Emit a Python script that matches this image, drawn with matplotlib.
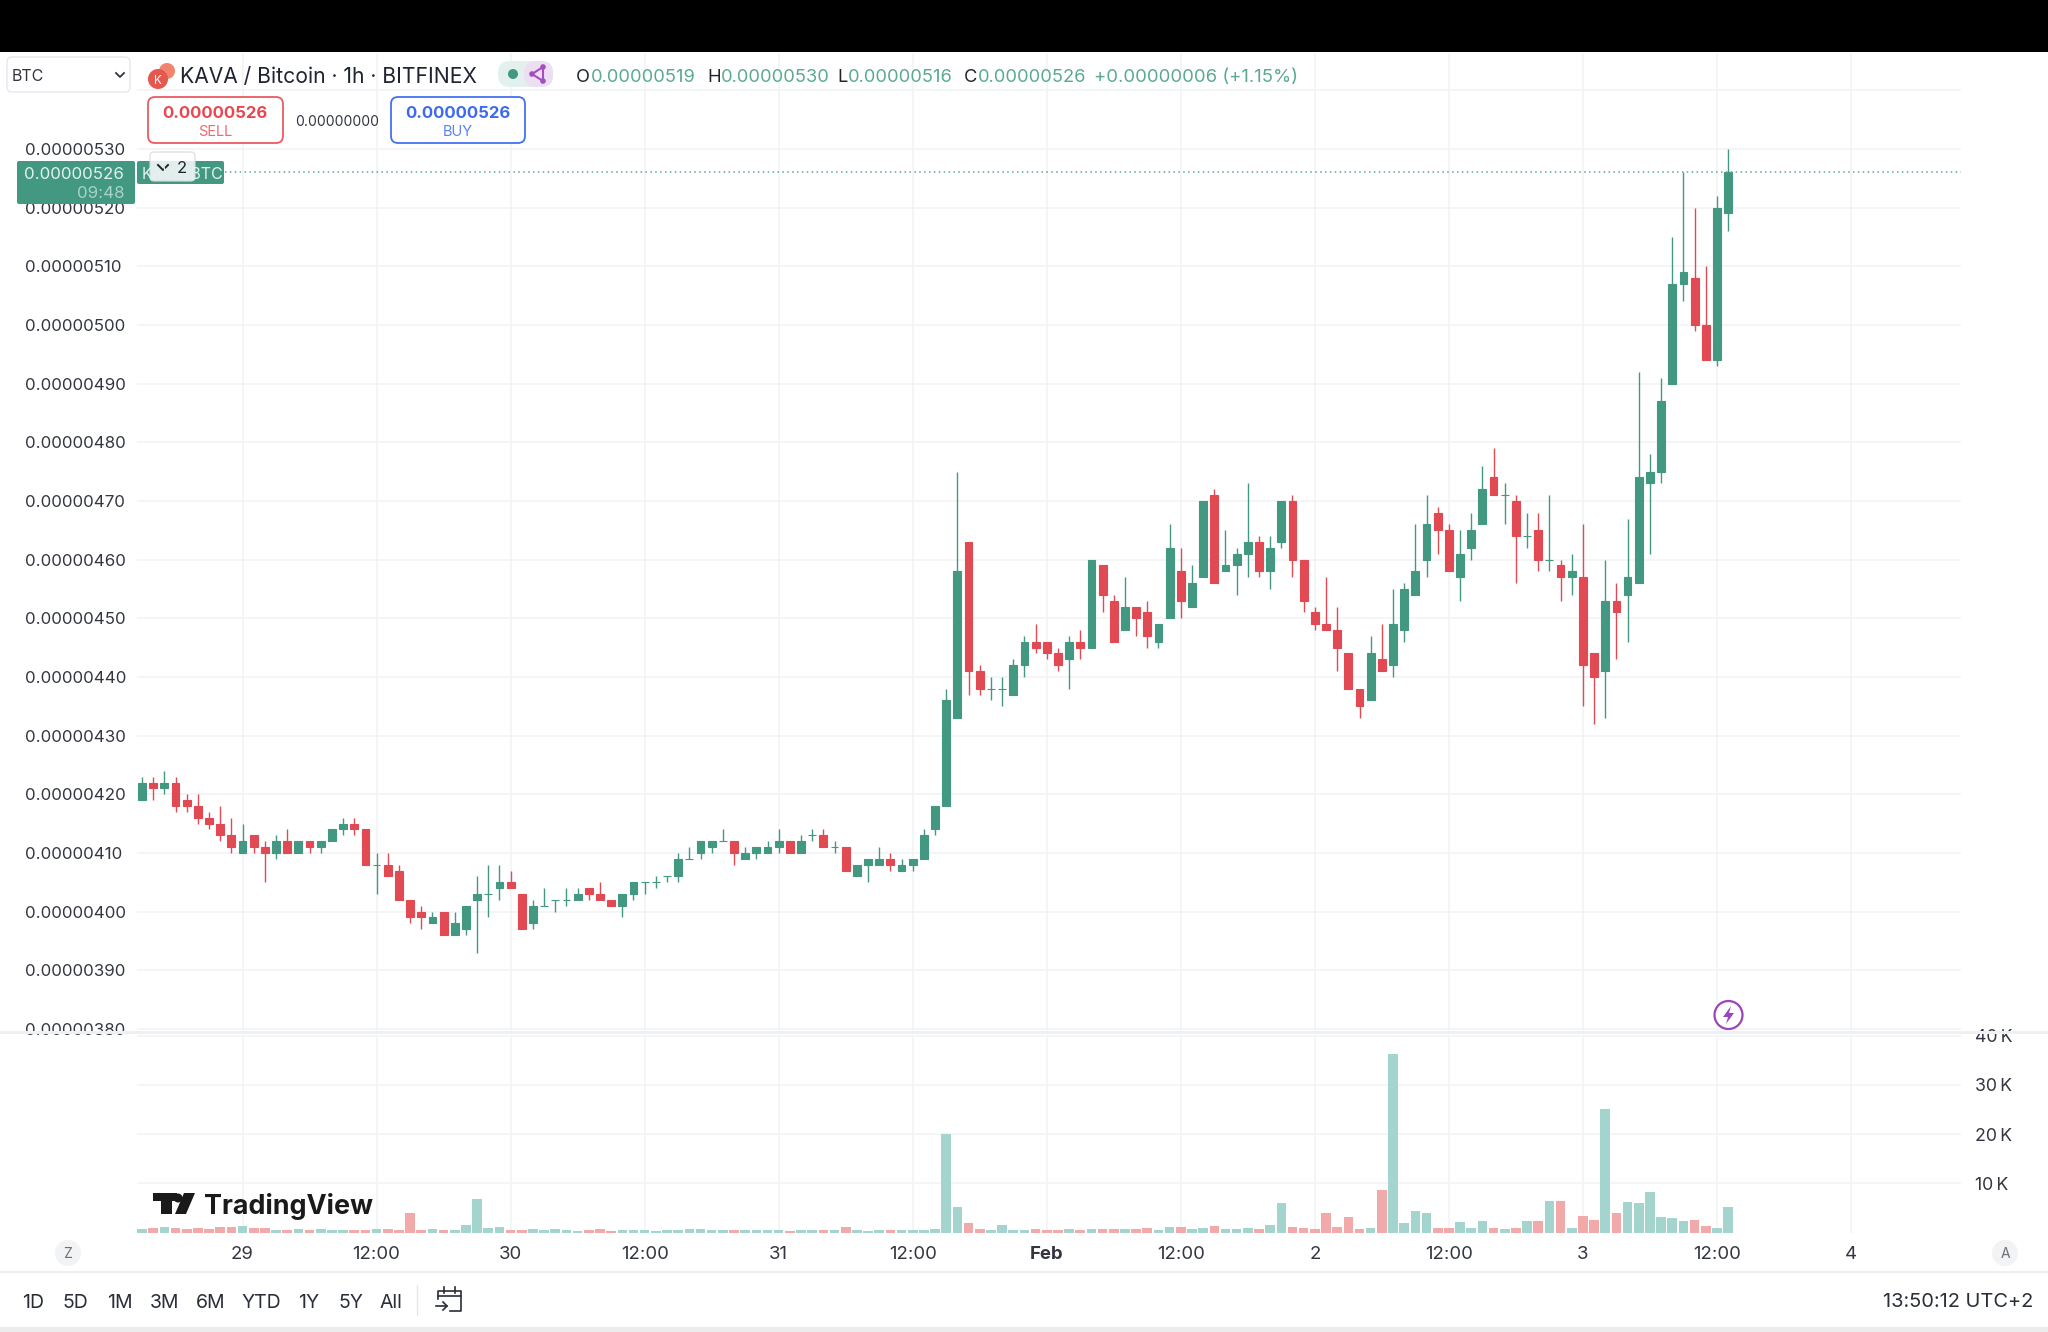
from matplotlib import pyplot as plt
from matplotlib.patches import Circle, FancyBboxPatch, Polygon, Rectangle

plt.rcParams['font.family'] = ['Inter', 'DejaVu Sans']

# prices are in units of 0.00000001 BTC, one candle per hour from 28 Jan 15:00
opens = [419, 422, 421, 422, 419, 418, 416, 415, 413, 410, 413, 411, 410, 412, 410, 412, 411, 412, 414, 415,
	414, 408, 408, 407, 402, 400, 398, 400, 396, 397, 402, 403, 404, 405, 403, 398, 401, 402, 402, 402,
	404, 403, 402, 401, 403, 405, 405, 406, 406, 409, 410, 411, 412, 412, 409, 410, 410, 411, 412, 410,
	413, 413, 411, 411, 406, 408, 408, 409, 407, 408, 409, 414, 418, 433, 463, 441, 438, 438, 437, 442,
	446, 446, 444, 443, 446, 445, 459, 453, 448, 452, 451, 446, 450, 458, 452, 457, 471, 458, 459, 461,
	463, 458, 463, 470, 460, 451, 449, 448, 444, 438, 436, 443, 442, 448, 454, 460, 468, 465, 457, 462,
	466, 474, 471, 470, 464, 465, 460, 459, 457, 457, 444, 441, 453, 454, 456, 473, 475, 490, 507, 508,
	500, 494, 519]
closes = [422, 421, 422, 418, 418, 416, 415, 413, 411, 412, 411, 410, 412, 410, 412, 411, 412, 414, 415, 414,
	408, 408, 406, 402, 399, 399, 399, 396, 398, 401, 403, 403, 405, 404, 397, 401, 401, 402, 402, 403,
	403, 402, 401, 403, 405, 405, 405, 406, 409, 409, 412, 412, 412, 410, 410, 411, 411, 412, 410, 412,
	413, 411, 411, 407, 408, 409, 409, 408, 408, 409, 413, 418, 436, 458, 441, 438, 438, 438, 442, 446,
	445, 444, 442, 446, 445, 460, 454, 446, 452, 450, 447, 449, 462, 453, 456, 470, 456, 459, 461, 463,
	458, 462, 470, 460, 453, 449, 448, 445, 438, 435, 444, 441, 449, 455, 458, 466, 465, 458, 461, 465,
	472, 471, 471, 464, 464, 460, 460, 457, 458, 442, 440, 453, 451, 457, 474, 475, 487, 507, 509, 500,
	494, 520, 526]
highs = [423, 423, 424, 423, 420, 420, 417, 418, 416, 415, 413, 412, 413, 414, 412, 412, 412, 414, 416, 416,
	414, 410, 410, 408, 402, 401, 400, 400, 400, 401, 406, 408, 408, 407, 403, 402, 404, 402, 404, 404,
	404, 405, 402, 403, 405, 405, 406, 406, 410, 411, 412, 412, 414, 412, 411, 411, 412, 414, 412, 413,
	414, 414, 412, 411, 408, 409, 411, 410, 409, 409, 414, 418, 438, 475, 463, 442, 440, 440, 443, 447,
	449, 446, 445, 447, 448, 460, 459, 454, 457, 452, 453, 449, 466, 462, 459, 470, 472, 465, 462, 473,
	464, 464, 470, 471, 460, 452, 457, 452, 444, 438, 447, 449, 455, 456, 466, 471, 469, 466, 465, 468,
	476, 479, 473, 471, 468, 468, 471, 460, 461, 466, 444, 460, 456, 467, 492, 478, 491, 515, 526, 520,
	510, 522, 530]
lows = [419, 419, 420, 417, 417, 415, 414, 412, 410, 410, 410, 405, 409, 410, 410, 410, 410, 412, 413, 413,
	408, 403, 406, 402, 398, 397, 398, 396, 396, 396, 393, 399, 402, 404, 397, 397, 401, 400, 401, 402,
	402, 402, 401, 399, 402, 403, 404, 405, 405, 409, 409, 410, 412, 408, 409, 409, 410, 410, 410, 410,
	412, 411, 410, 407, 406, 405, 408, 407, 407, 407, 409, 413, 418, 433, 437, 437, 436, 435, 437, 440,
	444, 443, 441, 438, 443, 445, 451, 446, 448, 447, 445, 445, 450, 450, 452, 457, 456, 458, 454, 457,
	457, 455, 462, 457, 451, 448, 448, 441, 438, 433, 436, 441, 440, 446, 454, 457, 461, 458, 453, 460,
	466, 471, 466, 456, 462, 458, 458, 453, 454, 435, 432, 433, 443, 446, 456, 461, 473, 490, 504, 499,
	494, 493, 516]
# volume in thousands
volumes = [0.75, 0.95, 1.1, 0.95, 0.75, 0.95, 0.75, 1.1, 1.1, 1.35, 0.95, 0.95, 0.6, 0.6, 0.75, 0.6, 0.65, 0.45, 0.45, 0.6,
	0.6, 0.75, 0.75, 0.6, 3.9, 0.6, 0.65, 0.45, 0.45, 1.5, 6.8, 0.95, 1.1, 0.6, 0.45, 0.75, 0.45, 0.65, 0.45, 0.3,
	0.45, 0.65, 0.3, 0.45, 0.45, 0.45, 0.3, 0.45, 0.45, 0.65, 0.65, 0.45, 0.45, 0.45, 0.45, 0.45, 0.45, 0.45, 0.3, 0.45,
	0.45, 0.45, 0.45, 1.2, 0.45, 0.3, 0.45, 0.45, 0.45, 0.45, 0.45, 0.75, 20.1, 5.1, 2.0, 0.75, 0.6, 1.5, 0.6, 0.6,
	0.65, 0.5, 0.5, 0.65, 0.5, 0.65, 0.65, 0.65, 0.65, 0.65, 0.95, 0.5, 1.1, 1.2, 0.65, 0.95, 1.35, 0.65, 0.65, 0.95,
	0.75, 1.5, 5.9, 1.1, 0.95, 0.75, 4.05, 1.1, 3.05, 0.75, 0.95, 8.6, 36.3, 2.0, 4.3, 4.0, 0.9, 1.0, 2.1, 1.0,
	2.4, 0.9, 0.75, 0.9, 2.4, 2.4, 6.4, 6.4, 0.9, 3.4, 2.6, 25.2, 3.9, 6.1, 6.0, 8.2, 3.1, 2.85, 2.4, 2.6,
	1.3, 1.0, 5.1]
price_ticks = [380, 390, 400, 410, 420, 430, 440, 450, 460, 470, 480, 490, 500, 510, 520, 530, 540]
volume_ticks = [10, 20, 30, 40]
time_ticks = [9, 21, 33, 45, 57, 69, 81, 93, 105, 117, 129, 141, 153]
time_labels = ['29', '12:00', '30', '12:00', '31', '12:00', 'Feb', '12:00', '2', '12:00', '3', '12:00', '4']
last_price = 526
ranges = ['1D', '5D', '1M', '3M', '6M', 'YTD', '1Y', '5Y', 'All']

GREEN = '#439882'
RED = '#e14a52'
LIGHT_GREEN = '#a3d4ce'
LIGHT_RED = '#f2a9a9'
TEXT = '#333640'
GRID = '#f3f4f6'
W, H = 2048, 1332


def pixel_axes(fig, left, top, right, bottom):
	return fig.add_axes([left / W, 1 - bottom / H, (right - left) / W, (bottom - top) / H])


def plain(ax):
	for s in ax.spines.values():
		s.set_visible(False)
	ax.set_axisbelow(True)
	ax.grid(True, color=GRID, lw=1.3)
	ax.tick_params(length=0, labelcolor=TEXT, labelsize=12.2)
	ax.set_xlim(-0.45, 162.85)
	ax.set_xticks(time_ticks)


def plot_candles(ax):
	x = list(range(len(opens)))
	colors = [GREEN if c >= o else RED for o, c in zip(opens, closes)]
	ax.vlines(x, lows, highs, color=colors, lw=1.0)
	ax.bar(x, [c - o for o, c in zip(opens, closes)], bottom=opens, width=0.7, color=colors, edgecolor=colors, lw=0.8)
	ax.axhline(last_price, color='#5aa893', lw=1.1, ls=(0, (1, 2.2)))
	ax.set_ylim(379.25, 546.3)
	ax.set_yticks(price_ticks)
	ax.set_yticklabels(['' if p == 540 else '%.8f' % (p * 1e-8) for p in price_ticks], ha='left')
	ax.tick_params(axis='y', pad=80.5)
	ax.tick_params(axis='x', labelbottom=False)


def plot_volume(ax):
	x = list(range(len(volumes)))
	colors = [LIGHT_GREEN if c >= o else LIGHT_RED for o, c in zip(opens, closes)]
	ax.bar(x, volumes, width=0.86, color=colors)
	ax.set_ylim(0, 40.25)
	ax.set_yticks(volume_ticks)
	ax.set_yticklabels(['%d\u2009K' % v for v in volume_ticks])
	ax.yaxis.tick_right()
	ax.tick_params(axis='y', pad=10, labelsize=12.8)
	ax.set_xticklabels(time_labels)
	ax.tick_params(axis='x', pad=9.5, labelsize=13.4)
	for lab in ax.get_xticklabels():
		if lab.get_text() == 'Feb':
			lab.set_fontweight('bold')


def box(ui, x0, y0, x1, y1, r=0, **kw):
	ui.add_patch(FancyBboxPatch((x0, y0), x1 - x0, y1 - y0, boxstyle='round,pad=0,rounding_size=%g' % r, **kw))


def label(ui, x, y, s, size=12.2, color=TEXT, ha='left', **kw):
	ui.text(x, y, s, fontsize=size, color=color, ha=ha, va='center_baseline', **kw)


def draw_header(ui):
	ui.add_patch(Rectangle((0, 0), W, 52, color='black', lw=0))
	box(ui, 7, 57, 130, 92, 5, fc='white', ec='#e6e8ee', lw=1)
	label(ui, 12, 75, 'BTC', 11.5)
	ui.plot([116, 120, 124], [73, 77, 73], color=TEXT, lw=1.3)

	ui.add_patch(Circle((167, 71), 8, color='#f0846c', lw=0))
	ui.add_patch(Circle((158, 79), 10, color='#e5574f', lw=0))
	label(ui, 158, 79.5, 'K', 8.5, 'white', 'center')
	label(ui, 180, 75, 'KAVA / Bitcoin · 1h · BITFINEX', 15.2, '#1f2430')

	box(ui, 498, 61, 553, 87, 12, fc='#e3f1ee', ec='none')
	box(ui, 524, 61, 553, 87, 12, fc='#ecdff3', ec='none')
	ui.add_patch(Circle((513, 74), 5, color=GREEN, lw=0))
	for a, b in [((532, 74), (543, 67)), ((532, 74), (543, 81)), ((543, 67), (543, 81))]:
		ui.plot([a[0], b[0]], [a[1], b[1]], color='#a64dc0', lw=1.5)
	for p in [(532, 74), (543, 67), (543, 81)]:
		ui.add_patch(Circle(p, 2.8, color='#a64dc0', lw=0))

	hl = '#59aa91'
	for x, s, in [(576, 'O'), (707, 'H'), (837, 'L'), (964, 'C')]:
		label(ui, x, 75, s, 13.2, '#20242c')
	for x, s in [(591, '0.00000519'), (721, '0.00000530'), (848, '0.00000516'), (978, '0.00000526')]:
		label(ui, x, 75, s, 13.2, hl)
	label(ui, 1094, 75, '+0.00000006 (+1.15%)', 13.3, hl)

	box(ui, 148, 97, 283, 143, 7, fc='white', ec='#ec5a60', lw=1.3)
	label(ui, 215, 112, '0.00000526', 12, '#e8474f', 'center', fontweight='bold')
	label(ui, 215, 131, 'SELL', 10.5, '#ee6a70', 'center')
	label(ui, 337, 120, '0.00000000', 10, TEXT, 'center')
	box(ui, 391, 97, 525, 143, 7, fc='white', ec='#4470f0', lw=1.3)
	label(ui, 458, 112, '0.00000526', 12, '#3c69ee', 'center', fontweight='bold')
	label(ui, 458, 131, 'BUY', 10.5, '#5b82f0', 'center')


def draw_price_tag(ui):
	box(ui, 17, 161, 135, 204, 2, fc=GREEN, ec='none')
	label(ui, 124, 173, '0.00000526', 12.2, '#e4f2ee', 'right')
	label(ui, 124, 192, '09:48', 12.2, '#a8d3c6', 'right')
	box(ui, 137, 161, 224, 184, 2, fc=GREEN, ec='none')
	label(ui, 142, 173, 'KAVA/BTC', 11.5, '#e4f2ee')
	box(ui, 150, 152, 195, 181, 4, fc='#ffffffd8', ec='#d8dbe2', lw=0.8)
	ui.plot([158, 163, 168], [165, 170, 165], color='#20242c', lw=1.4)
	label(ui, 182, 167, '2', 12, '#20242c', 'center')


def draw_logo(ui):
	ui.add_patch(Rectangle((153, 1193), 24, 8, color='#1a1a1a', lw=0))
	ui.add_patch(Rectangle((161, 1193), 11, 21, color='#1a1a1a', lw=0))
	ui.add_patch(Circle((178, 1198), 4.5, color='#1a1a1a', lw=0))
	ui.add_patch(Polygon([(184, 1193), (195, 1193), (186, 1214), (175, 1214)], color='#1a1a1a', lw=0))
	label(ui, 204, 1204, 'TradingView', 19.4, '#1a1a1a', fontweight='bold')


def draw_footer(ui):
	# pane separator covers the clipped bottom and top axis labels
	ui.add_patch(Rectangle((0, 1031), W, 3, color='#eff0f4', lw=0))
	ui.add_patch(Circle((1728.5, 1015), 14, fc='white', ec='#9a45bd', lw=1.6))
	ui.add_patch(Polygon([(1731, 1006), (1723, 1017), (1728, 1017), (1726, 1024), (1734, 1013), (1729, 1013)], color='#9a45bd', lw=0))
	ui.add_patch(Circle((68, 1253), 13, color='#f2f3f5', lw=0))
	label(ui, 68, 1253, 'Z', 10, '#6b6f78', 'center')
	ui.add_patch(Circle((2005, 1253), 13, color='#f2f3f5', lw=0))
	label(ui, 2005, 1253, 'A', 10, '#6b6f78', 'center')
	ui.add_patch(Rectangle((0, 1271), W, 2, color='#eceef1', lw=0))
	ui.add_patch(Rectangle((0, 1327), W, 5, color='#ececec', lw=0))
	for x, s in zip([33, 75, 120, 165, 211, 261, 309, 351, 391], ranges):
		label(ui, x, 1301, s, 14, '#2a2e39', 'center')
	ui.plot([417, 417], [1285, 1315], color='#e4e6ea', lw=1)
	cal = '#2a2e39'
	ui.plot([438, 438, 461, 461, 450], [1299, 1291, 1291, 1311, 1311], color=cal, lw=1.2)
	ui.plot([438, 461], [1296, 1296], color=cal, lw=1.2)
	ui.plot([444, 444], [1287, 1293], color=cal, lw=1.2)
	ui.plot([455, 455], [1287, 1293], color=cal, lw=1.2)
	ui.plot([436, 447], [1306, 1306], color=cal, lw=1.2)
	ui.plot([443, 447, 443], [1302, 1306, 1310], color=cal, lw=1.2)
	label(ui, 2033, 1300, '13:50:12 UTC+2', 14.4, '#2a2e39', 'right')


def main():
	fig = plt.figure(figsize=(W / 100, H / 100), dpi=100, facecolor='white')

	price_ax = pixel_axes(fig, 137, 53.3, 1961, 1033.3)
	plain(price_ax)
	plot_candles(price_ax)

	volume_ax = pixel_axes(fig, 137, 1034.5, 1961, 1232.5)
	plain(volume_ax)
	plot_volume(volume_ax)

	ui = fig.add_axes([0, 0, 1, 1], zorder=10)
	ui.patch.set_alpha(0)
	ui.set_xlim(0, W)
	ui.set_ylim(H, 0)
	ui.axis('off')
	draw_header(ui)
	draw_price_tag(ui)
	draw_logo(ui)
	draw_footer(ui)

	fig.savefig('out.png', dpi=100)


if __name__ == '__main__':
	main()
